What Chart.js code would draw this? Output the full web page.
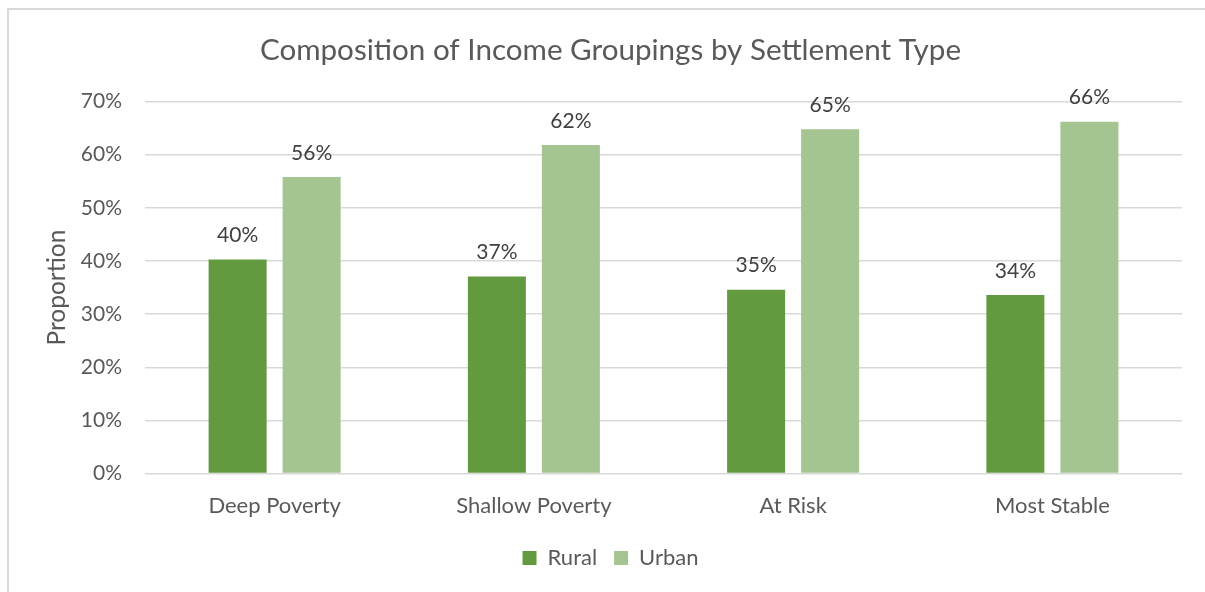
<!DOCTYPE html>
<html>
<head>
<meta charset="utf-8">
<script src="https://cdn.jsdelivr.net/npm/chart.js@4.4.1/dist/chart.umd.min.js"></script>
<style>
  html, body { margin: 0; padding: 0; background: #ffffff; overflow: hidden; }
  #wrap { position: relative; width: 1205px; height: 592px; }
  #frame { position: absolute; left: 7px; top: 8px; width: 1400px; height: 800px;
           border: 2px solid #d9d9d9; box-sizing: border-box; }
  #c { position: absolute; left: 0; top: 0; }
</style>
</head>
<body>
<div id="wrap">
  <div id="frame"></div>
  <canvas id="c" width="1205" height="592"></canvas>
</div>
<script>
const categories = ['Deep Poverty', 'Shallow Poverty', 'At Risk', 'Most Stable'];
const rural = [40.3, 37.1, 34.6, 33.6];
const urban = [55.8, 61.8, 64.8, 66.2];
const seriesNames = ['Rural', 'Urban'];
const yTicks = [0, 10, 20, 30, 40, 50, 60, 70];

const FONT = 'Lato, "Liberation Sans", sans-serif';

// value labels above each bar
const barLabels = {
  id: 'barLabels',
  afterDatasetsDraw(chart) {
    const ctx = chart.ctx;
    ctx.save();
    ctx.font = '21px ' + FONT;
    ctx.fillStyle = '#404040';
    ctx.textAlign = 'center';
    ctx.textBaseline = 'middle';
    chart.data.datasets.forEach((ds, i) => {
      chart.getDatasetMeta(i).data.forEach((bar, j) => {
        ctx.fillText(Math.round(ds.data[j]) + '%', bar.x, bar.y - 24);
      });
    });
    ctx.restore();
  }
};

new Chart(document.getElementById('c'), {
  type: 'bar',
  data: {
    labels: categories,
    datasets: [
      { label: seriesNames[0], data: rural, backgroundColor: '#639a3f', borderWidth: 0 },
      { label: seriesNames[1], data: urban, backgroundColor: '#a4c591', borderWidth: 0 }
    ]
  },
  options: {
    responsive: false,
    animation: false,
    devicePixelRatio: 1,
    layout: { padding: { left: 16, right: 0, top: 0, bottom: 13 } },
    datasets: { bar: { categoryPercentage: 0.571, barPercentage: 0.784 } },
    plugins: {
      title: {
        display: true,
        text: 'Composition of Income Groupings by Settlement Type',
        color: '#595959',
        font: { family: FONT, size: 29.6, weight: 'normal' },
        padding: { top: 33, bottom: 33 }
      },
      legend: {
        position: 'bottom',
        labels: {
          color: '#595959',
          font: { family: FONT, size: 22 },
          boxWidth: 14, boxHeight: 14, padding: 17
        }
      },
      tooltip: { enabled: false }
    },
    scales: {
      x: {
        grid: { display: false },
        border: { display: false },
        ticks: { color: '#595959', font: { family: FONT, size: 22 }, padding: 11 }
      },
      y: {
        min: 0, max: 70,
        afterBuildTicks(scale) { scale.ticks = yTicks.map(v => ({ value: v })); },
        afterFit(scale) { scale.width = 129; },
        grid: { color: '#d9d9d9', lineWidth: 1.5, drawTicks: false },
        border: { display: false },
        ticks: {
          color: '#595959', font: { family: FONT, size: 21 }, padding: 23,
          callback: v => v + '%'
        },
        title: {
          display: true, text: 'Proportion', color: '#595959',
          font: { family: FONT, size: 24.5 }, padding: { top: 26, bottom: 0 }
        }
      },
      // empty right-hand margin beside the plot
      yRight: {
        position: 'right',
        display: true,
        grid: { display: false, drawTicks: false },
        border: { display: false },
        ticks: { display: false },
        afterFit(scale) { scale.width = 23; }
      }
    }
  },
  plugins: [barLabels]
});
</script>
</body>
</html>
